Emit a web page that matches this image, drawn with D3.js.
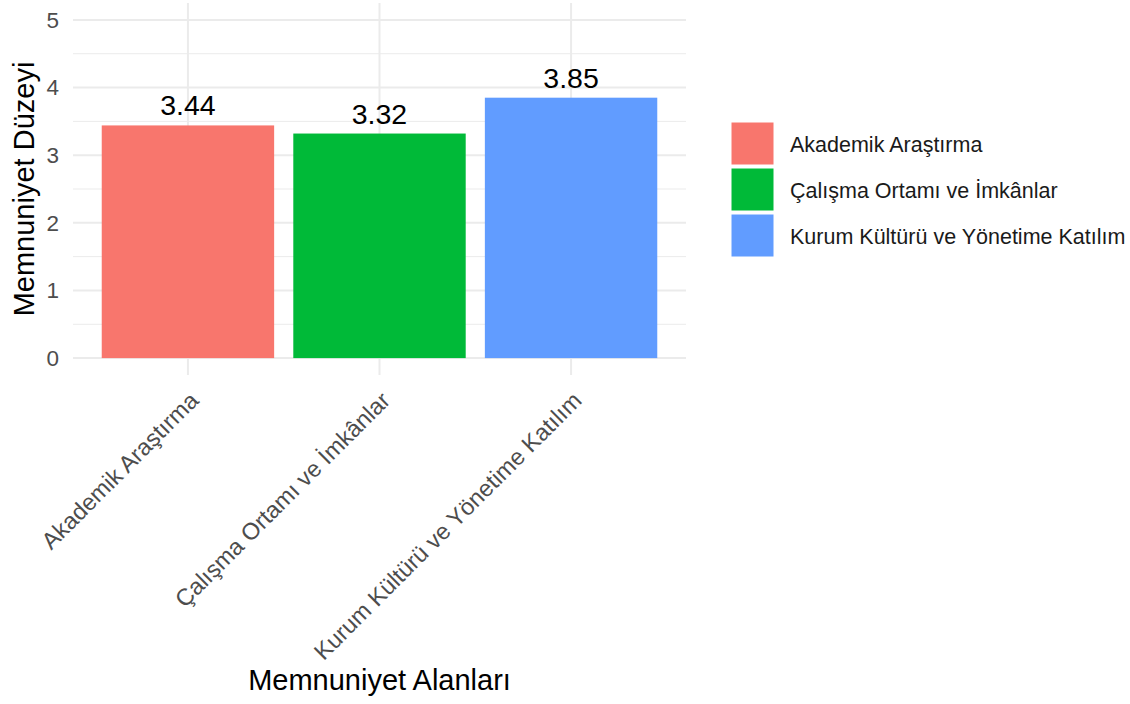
<!DOCTYPE html>
<html>
<head>
<meta charset="utf-8">
<script src="https://cdn.jsdelivr.net/npm/d3@7"></script>
<style>
  body { margin: 0; background: #fff; }
  text { font-family: "Liberation Sans", Arial, sans-serif; }
</style>
</head>
<body>
<svg width="1130" height="704"></svg>
<script>
// data
var categories = ["Akademik Araştırma", "Çalışma Ortamı ve İmkânlar", "Kurum Kültürü ve Yönetime Katılım"];
var values = [3.44, 3.32, 3.85];
var colors = ["#F8766D", "#00BA38", "#619CFF"];
var yTicks = [0, 1, 2, 3, 4, 5];
var yMinor = [0.5, 1.5, 2.5, 3.5, 4.5];

var svg = d3.select("svg");

// panel scales (ggplot style expansion)
var x = d3.scaleBand()
    .domain(categories)
    .range([73, 686])
    .paddingInner(0.1)
    .paddingOuter(0.15);

var y = d3.scaleLinear()
    .domain([-0.25, 5.25])
    .range([375, 3]);

var color = d3.scaleOrdinal().domain(categories).range(colors);

var grid = svg.append("g");

// minor grid
grid.selectAll("line.minor")
    .data(yMinor)
    .enter()
    .append("line")
    .attr("x1", 73).attr("x2", 686)
    .attr("y1", d => y(d)).attr("y2", d => y(d))
    .style("stroke", "#EBEBEB").style("stroke-width", 1);

// major grid
grid.selectAll("line.major")
    .data(yTicks)
    .enter()
    .append("line")
    .attr("x1", 73).attr("x2", 686)
    .attr("y1", d => y(d)).attr("y2", d => y(d))
    .style("stroke", "#EBEBEB").style("stroke-width", 2);

grid.selectAll("line.vmajor")
    .data(categories)
    .enter()
    .append("line")
    .attr("x1", d => x(d) + x.bandwidth() / 2)
    .attr("x2", d => x(d) + x.bandwidth() / 2)
    .attr("y1", 3).attr("y2", 375)
    .style("stroke", "#EBEBEB").style("stroke-width", 2);

// bars
svg.append("g")
    .selectAll("rect")
    .data(categories)
    .enter()
    .append("rect")
    .attr("x", d => x(d))
    .attr("width", x.bandwidth())
    .attr("y", (d, i) => y(values[i]))
    .attr("height", (d, i) => y(0) - y(values[i]))
    .style("fill", d => color(d));

// value labels
svg.append("g")
    .selectAll("text")
    .data(categories)
    .enter()
    .append("text")
    .attr("x", d => x(d) + x.bandwidth() / 2)
    .attr("y", (d, i) => y(values[i]) - 10)
    .attr("text-anchor", "middle")
    .style("font-size", "28.5px")
    .style("fill", "#000")
    .text((d, i) => values[i].toFixed(2));

// y axis
var yAxis = svg.append("g")
    .attr("transform", "translate(63,0)")
    .call(d3.axisLeft(y).tickValues(yTicks).tickSize(0).tickPadding(4).tickFormat(d3.format("d")));
yAxis.select(".domain").remove();
yAxis.selectAll("text")
    .style("font-size", "22.5px")
    .style("fill", "#4D4D4D")
    .style("font-family", "Liberation Sans, Arial, sans-serif");

// x tick labels, rotated 45
svg.append("g")
    .selectAll("text")
    .data(categories)
    .enter()
    .append("text")
    .attr("transform", d => "translate(" + (x(d) + x.bandwidth() / 2 + 12) + ",402) rotate(-45)")
    .attr("text-anchor", "end")
    .style("font-size", "23.5px")
    .style("fill", "#4D4D4D")
    .text(d => d);

// axis titles
svg.append("text")
    .attr("x", (73 + 686) / 2)
    .attr("y", 690)
    .attr("text-anchor", "middle")
    .style("font-size", "29px")
    .style("fill", "#000")
    .text("Memnuniyet Alanları");

svg.append("text")
    .attr("transform", "translate(34," + ((3 + 375) / 2) + ") rotate(-90)")
    .attr("text-anchor", "middle")
    .style("font-size", "29px")
    .style("fill", "#000")
    .text("Memnuniyet Düzeyi");

// legend
var legend = svg.append("g")
    .attr("transform", "translate(731,122)")
    .selectAll("g")
    .data(categories)
    .enter()
    .append("g")
    .attr("transform", (d, i) => "translate(0," + (i * 46) + ")");

legend.append("rect")
    .attr("width", 43)
    .attr("height", 43)
    .style("fill", d => color(d))
    .style("stroke", "#fff")
    .style("stroke-width", 1);

legend.append("text")
    .attr("x", 59)
    .attr("y", 22)
    .attr("dy", "0.35em")
    .style("font-size", "21.5px")
    .style("fill", "#1A1A1A")
    .text(d => d);
</script>
</body>
</html>
